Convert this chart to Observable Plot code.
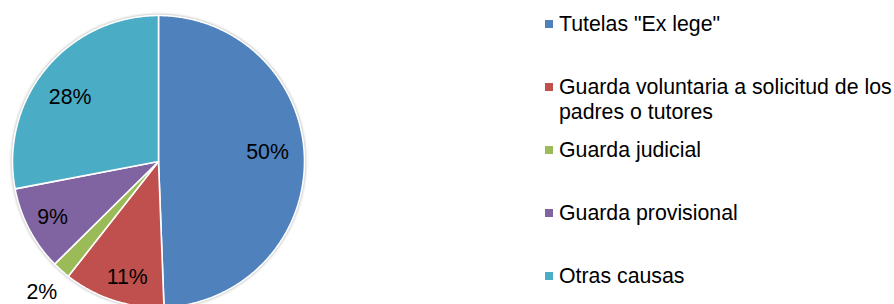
<!DOCTYPE html>
<html>
<head>
<meta charset="utf-8">
<script src="https://cdn.jsdelivr.net/npm/d3@7"></script>
<script src="https://cdn.jsdelivr.net/npm/@observablehq/plot@0.6"></script>
<style>
  html, body { margin: 0; padding: 0; background: #fff; overflow: hidden; }
  #wrap { position: relative; width: 894px; height: 304px; font-family: "Liberation Sans", Arial, sans-serif; }
  #wrap svg { position: absolute; left: 0; top: 0; }
  .leg { position: absolute; left: 545px; font-size: 21.3px; line-height: 25px; color: #000; white-space: nowrap; }
  .leg .sw { position: absolute; left: 0; top: 8.5px; width: 8px; height: 8px; }
  .leg .tx { position: absolute; left: 14px; top: 0; }
</style>
</head>
<body>
<div id="wrap"></div>
<script>
const categories = ['Tutelas "Ex lege"', 'Guarda voluntaria a solicitud de los', 'Guarda judicial', 'Guarda provisional', 'Otras causas'];
const legendLines = [['Tutelas "Ex lege"'], ['Guarda voluntaria a solicitud de los', 'padres o tutores'], ['Guarda judicial'], ['Guarda provisional'], ['Otras causas']];
const shares = [49.4, 11.2, 2.0, 9.4, 28.0];
const pctLabels = ["50%", "11%", "2%", "9%", "28%"];
const colors = ["#4F81BD", "#C0504D", "#9BBB59", "#8064A2", "#4BACC6"];

// layout
const W = 894, H = 304, cx = 158, cy = 161, R = 146;

const total = d3.sum(shares);
let acc = 0;
const slices = shares.map((v, i) => {
  const a0 = acc / total * 2 * Math.PI;
  acc += v;
  const a1 = acc / total * 2 * Math.PI;
  return {name: categories[i], value: v, a0, a1, label: pctLabels[i]};
});

const pts = [];
for (const s of slices) {
  pts.push({name: s.name, x: 0, y: 0});
  const n = Math.max(2, Math.ceil((s.a1 - s.a0) / (Math.PI / 360)));
  for (let k = 0; k <= n; k++) {
    const a = s.a0 + (s.a1 - s.a0) * k / n;
    pts.push({name: s.name, x: Math.sin(a), y: Math.cos(a)});
  }
}

// label placement: small slices outside, others inside with slight best-fit shifts
const labelPts = slices.map(s => {
  const shift = s.value > 40 ? -0.07 : s.value > 20 ? -0.06 : s.value > 10 ? -0.05 : 0;
  const m = (s.a0 + s.a1) / 2 + shift;
  const f = s.value < 5 ? 1.2 : s.value > 20 ? 0.75 : 0.82;
  return {text: s.label, x: f * Math.sin(m), y: f * Math.cos(m)};
});

const chart = Plot.plot({
  width: W, height: H,
  margin: 0,
  style: {background: "transparent", overflow: "visible"},
  x: {domain: [-1, 1], range: [cx - R, cx + R], axis: null},
  y: {domain: [-1, 1], range: [cy + R, cy - R], axis: null},
  color: {domain: categories, range: colors},
  marks: [
    Plot.line(pts, {x: "x", y: "y", z: "name", fill: "name", stroke: "white", strokeWidth: 1.6, strokeLinejoin: "round", curve: "linear-closed"}),
    Plot.text(labelPts, {x: "x", y: "y", text: "text", fontSize: 21.3, fill: "#000", fontFamily: "Liberation Sans, Arial, sans-serif"})
  ]
});
const lineG = chart.querySelector('g[aria-label="line"]');
if (lineG) lineG.setAttribute("style", "filter: drop-shadow(0px 0px 1.5px rgba(0,0,0,0.35))");
const wrap = document.getElementById("wrap");
wrap.appendChild(chart);

legendLines.forEach((lines, i) => {
  const d = document.createElement("div");
  d.className = "leg";
  d.style.top = (24 + 63 * i - 12.5) + "px";
  const sw = document.createElement("div");
  sw.className = "sw";
  sw.style.background = colors[i];
  d.appendChild(sw);
  const tx = document.createElement("div");
  tx.className = "tx";
  tx.innerHTML = lines.map(l => l.replace(/&/g, "&amp;").replace(/</g, "&lt;")).join("<br>");
  d.appendChild(tx);
  wrap.appendChild(d);
});
</script>
</body>
</html>
